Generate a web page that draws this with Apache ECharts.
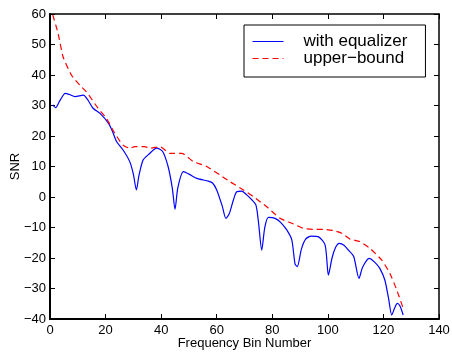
<!DOCTYPE html>
<html>
<head>
<meta charset="utf-8">
<script src="https://cdn.jsdelivr.net/npm/echarts@6/dist/echarts.min.js"></script>
<style>
    html, body { margin: 0; padding: 0; background: #fff; }
    #chart { width: 452px; height: 352px; }
</style>
</head>
<body>
<div id="chart"></div>
<script>
// 读取的曲线数据 (bin, SNR)
var eqBins = [1, 2, 3.5, 5.5, 7, 9, 12, 13.5, 15.5, 18, 21, 22.5, 24, 26.3, 28.7, 30, 31.1, 32, 33.5, 35.3,
    38.4, 40.5, 42.5, 44, 45, 46, 48, 50, 52.8, 57, 58.5, 60, 62, 63.3, 64.5, 66, 67.2, 69, 70.8, 72.5,
    74.1, 75, 76.2, 77.3, 78.6, 81, 83, 85.2, 87, 88.2, 89, 90.5, 92, 94, 96.5, 99, 100.2, 101.5, 102.8, 104.1,
    105.8, 107.4, 109.3, 111.2, 112.5, 114.9, 117, 118.7, 120.5, 121.8, 123, 124, 125, 126, 127.1];
var eqSnr = [30.2, 29.3, 31.5, 34.0, 33.6, 32.9, 33.4, 32, 29.1, 27.4, 24.2, 21.5, 18.1, 15.4, 11.6, 7.5, 2.3, 7, 12.1, 13.8,
    16.0, 15, 10, 3, -4.0, 3, 8.3, 7.5, 6.1, 5.2, 4.6, 2.3, -3, -7.0, -5.5, -1, 1.7, 1.9, 0.7, -0.8,
    -2.6, -8, -17.4, -10, -6.7, -7.0, -8.3, -10.8, -14, -22, -22.8, -17, -13.8, -12.8, -13, -15.7, -25.6, -20, -16.5, -15.2,
    -15.8, -17.4, -19.5, -26.7, -23, -20.1, -21.5, -23.4, -27.2, -33, -38.7, -36.5, -34.9, -35.8, -38.7];

var ubBins = [1, 2.9, 4.7, 7.7, 10.7, 13.1, 17.3, 20.3, 23.3, 26.3, 28.7, 30.5, 34, 36, 39.6, 43.2, 47.4, 51.6, 56.4,
    61.2, 64.8, 69.6, 73.2, 78, 82.8, 87, 91.2, 94.8, 98.4, 102, 105, 108, 111.5, 115.1, 119.4, 122.3, 124.8, 127.1];
var ubSnr = [59.7, 53.7, 46.0, 40, 36.7, 34.5, 29.1, 25.8, 20.9, 17.0, 16.0, 16.5, 16.5, 16.0, 16.5, 14.3, 14.3, 11.6, 10.0,
    7.2, 5.0, 2.3, 0.1, -3.2, -7.0, -8.6, -10.3, -10.6, -10.6, -11.0, -11.9, -13.8, -14.6, -16.8, -20.7, -25, -30.5, -36.5];

var seriesNames = ["with equalizer", "upper\u2212bound"];

function pairs(xs, ys) {
    var out = [];
    for (var i = 0; i < xs.length; i++) {
        out.push([xs[i], ys[i]]);
    }
    return out;
}

// 负号用 U+2212
function tickText(v) {
    return String(v).replace("-", "\u2212");
}

var font = "Liberation Sans, Arial, Helvetica, sans-serif";
var chart = echarts.init(document.getElementById("chart"));
var option = {
    animation: false,
    backgroundColor: "#fff",
    grid: { left: 50, top: 14, right: 13, bottom: 33, containLabel: false, outerBoundsMode: "none" },
    legend: {
        data: seriesNames,
        orient: "vertical",
        left: 244,
        top: 25,
        itemWidth: 31,
        itemHeight: 12,
        itemGap: 0,
        padding: [8, 18, 10, 8],
        borderColor: "#000",
        borderWidth: 1,
        backgroundColor: "#fff",
        itemStyle: { opacity: 0 },
        lineStyle: { width: 1 },
        textStyle: { fontFamily: font, fontSize: 17, lineHeight: 14, color: "#000", padding: [0, 0, 0, 15] }
    },
    xAxis: [
        {
            type: "value", min: 0, max: 140, interval: 20,
            name: "Frequency Bin Number", nameLocation: "middle", nameGap: 18, nameMoveOverlap: false,
            nameTextStyle: { fontFamily: font, fontSize: 13, color: "#000" },
            axisLine: { onZero: false, lineStyle: { color: "#000", width: 2 } },
            axisTick: { inside: true, length: 5, lineStyle: { color: "#000" } },
            axisLabel: { margin: 5, fontFamily: font, fontSize: 13, color: "#000" },
            splitLine: { show: false }
        },
        {
            type: "value", position: "top", min: 0, max: 140, interval: 20,
            axisLine: { show: true, onZero: false, lineStyle: { color: "#000", width: 1.5 } },
            axisTick: { inside: true, length: 5, lineStyle: { color: "#000" } },
            axisLabel: { show: false },
            splitLine: { show: false }
        }
    ],
    yAxis: [
        {
            type: "value", min: -40, max: 60, interval: 10,
            name: "SNR", nameLocation: "middle", nameGap: 28, nameMoveOverlap: false,
            nameTextStyle: { fontFamily: font, fontSize: 13, color: "#000" },
            axisLine: { show: true, onZero: false, lineStyle: { color: "#000", width: 2 } },
            axisTick: { show: true, inside: true, length: 5, lineStyle: { color: "#000" } },
            axisLabel: { margin: 4, fontFamily: font, fontSize: 13, color: "#000", formatter: tickText },
            splitLine: { show: false }
        },
        {
            type: "value", position: "right", min: -40, max: 60, interval: 10,
            axisLine: { show: true, onZero: false, lineStyle: { color: "#000", width: 1.5 } },
            axisTick: { show: true, inside: true, length: 5, lineStyle: { color: "#000" } },
            axisLabel: { show: false },
            splitLine: { show: false }
        }
    ],
    series: [
        {
            name: seriesNames[0],
            type: "line",
            data: pairs(eqBins, eqSnr),
            symbol: "none",
            smooth: 0.25,
            lineStyle: { color: "#0000ff", width: 1.2 },
            itemStyle: { color: "#0000ff" }
        },
        {
            name: seriesNames[1],
            type: "line",
            data: pairs(ubBins, ubSnr),
            symbol: "none",
            smooth: 0.2,
            lineStyle: { color: "#ff0000", width: 1.2, type: [6, 4] },
            itemStyle: { color: "#ff0000" }
        }
    ]
};
chart.setOption(option);
</script>
</body>
</html>
